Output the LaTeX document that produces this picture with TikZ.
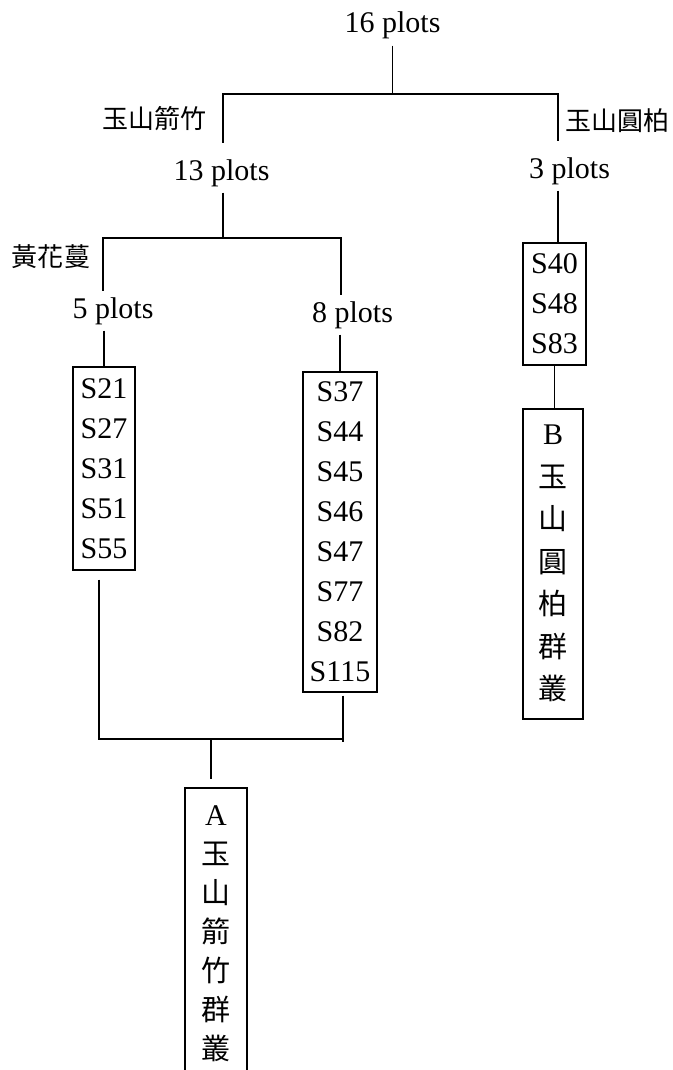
\documentclass[tikz,border=0pt]{standalone}
\usepackage{fontspec}
\setmainfont{Liberation Serif}
\newfontfamily\cjk{Noto Sans CJK TC}
\newcommand\cjkch[1]{{\cjk\fontsize{29}{42.5}\selectfont #1}}
\begin{document}
\begin{tikzpicture}[x=1pt,y=-1pt,
  plotlbl/.style={font=\fontsize{30}{36}\selectfont, inner sep=6pt, anchor=base},
  cjklbl/.style={font=\cjk\fontsize{26}{30}\selectfont, inner sep=0pt},
  plotbox/.style={draw, line width=1.6pt, font=\fontsize{30}{40}\selectfont, align=center, inner sep=0pt, anchor=north},
  clusterbox/.style={draw, line width=1.6pt, font=\fontsize{30}{42.5}\selectfont, align=center, inner sep=0pt, anchor=north},
  link/.style={line width=1.6pt}]
\useasboundingbox (0,0) rectangle (672,1070);

% labels
\node[plotlbl] (n16) at (392.5,33) {16 plots};
\node[plotlbl] (n13) at (221.5,180) {13 plots};
\node[plotlbl] (n3) at (569.5,178) {3 plots};
\node[plotlbl] (n5) at (113,318) {5 plots};
\node[plotlbl] (n8) at (352.5,322) {8 plots};
\node[cjklbl] (t1) at (154,119) {玉山箭竹};
\node[cjklbl] (t2) at (617.5,121) {玉山圓柏};
\node[cjklbl] (t3) at (51,257) {黃花蔓};

% boxes
\node[plotbox, minimum width=62pt, minimum height=203pt] (g5) at (104,366) {S21\\S27\\S31\\S51\\S55};
\node[plotbox, minimum width=74pt, minimum height=320pt] (g8) at (340,371) {S37\\S44\\S45\\S46\\S47\\S77\\S82\\S115};
\node[plotbox, minimum width=63pt, minimum height=122pt] (g40) at (554.5,242) {S40\\S48\\S83};
\node[clusterbox, minimum width=60pt, minimum height=310pt] (gB) at (553,408) {B\\\cjkch{玉}\\\cjkch{山}\\\cjkch{圓}\\\cjkch{柏}\\\cjkch{群}\\\cjkch{叢}};
\node[clusterbox, font=\fontsize{30}{39}\selectfont, minimum width=62pt, minimum height=292pt] (gA) at (216,787) {A\\\cjkch{玉}\\\cjkch{山}\\\cjkch{箭}\\\cjkch{竹}\\\cjkch{群}\\\cjkch{叢}};

% junction coordinates
\coordinate (c0) at (392.5,94);
\coordinate (cL) at (223,94);
\coordinate (cR) at (558,94);
\coordinate (c13) at (223,238);
\coordinate (b5) at (103,238);
\coordinate (b8) at (341,238);
\coordinate (d5) at (99,739);
\coordinate (d8) at (343,739);
\coordinate (d8e) at (343,742);
\coordinate (dm) at (211,739);
\coordinate (n13top) at ([yshift=10pt]n13.north);
\coordinate (n3top) at ([yshift=10pt]n3.north);
\coordinate (g5bot) at ([yshift=-9pt]g5.south);
\coordinate (g8bot) at ([yshift=-3pt]g8.south);
\coordinate (gAtop) at ([yshift=8pt]gA.north);

% connectors
\draw[link] (n16.south) -- (c0);
\draw[link] (n13top -| cL) -- (cL) -- (cR) -- (n3top -| cR);
\draw[link] (n13.south -| cL) -- (c13);
\draw[link] (n5.north -| b5) -- (b5) -- (b8) -- (n8.north -| b8);
\draw[link] (n5.south -| g5.north) -- (g5.north);
\draw[link] (n8.south -| g8.north) -- (g8.north);
\draw[link] (n3.south -| cR) -- (g40.north -| cR);
\draw[link] (g40.south) -- (g40.south |- gB.north);
\draw[link] (g5bot -| d5) -- (d5) -- (d8);
\draw[link] (g8bot -| d8) -- (d8e);
\draw[link] (dm) -- (gAtop -| dm);
\end{tikzpicture}
\end{document}
